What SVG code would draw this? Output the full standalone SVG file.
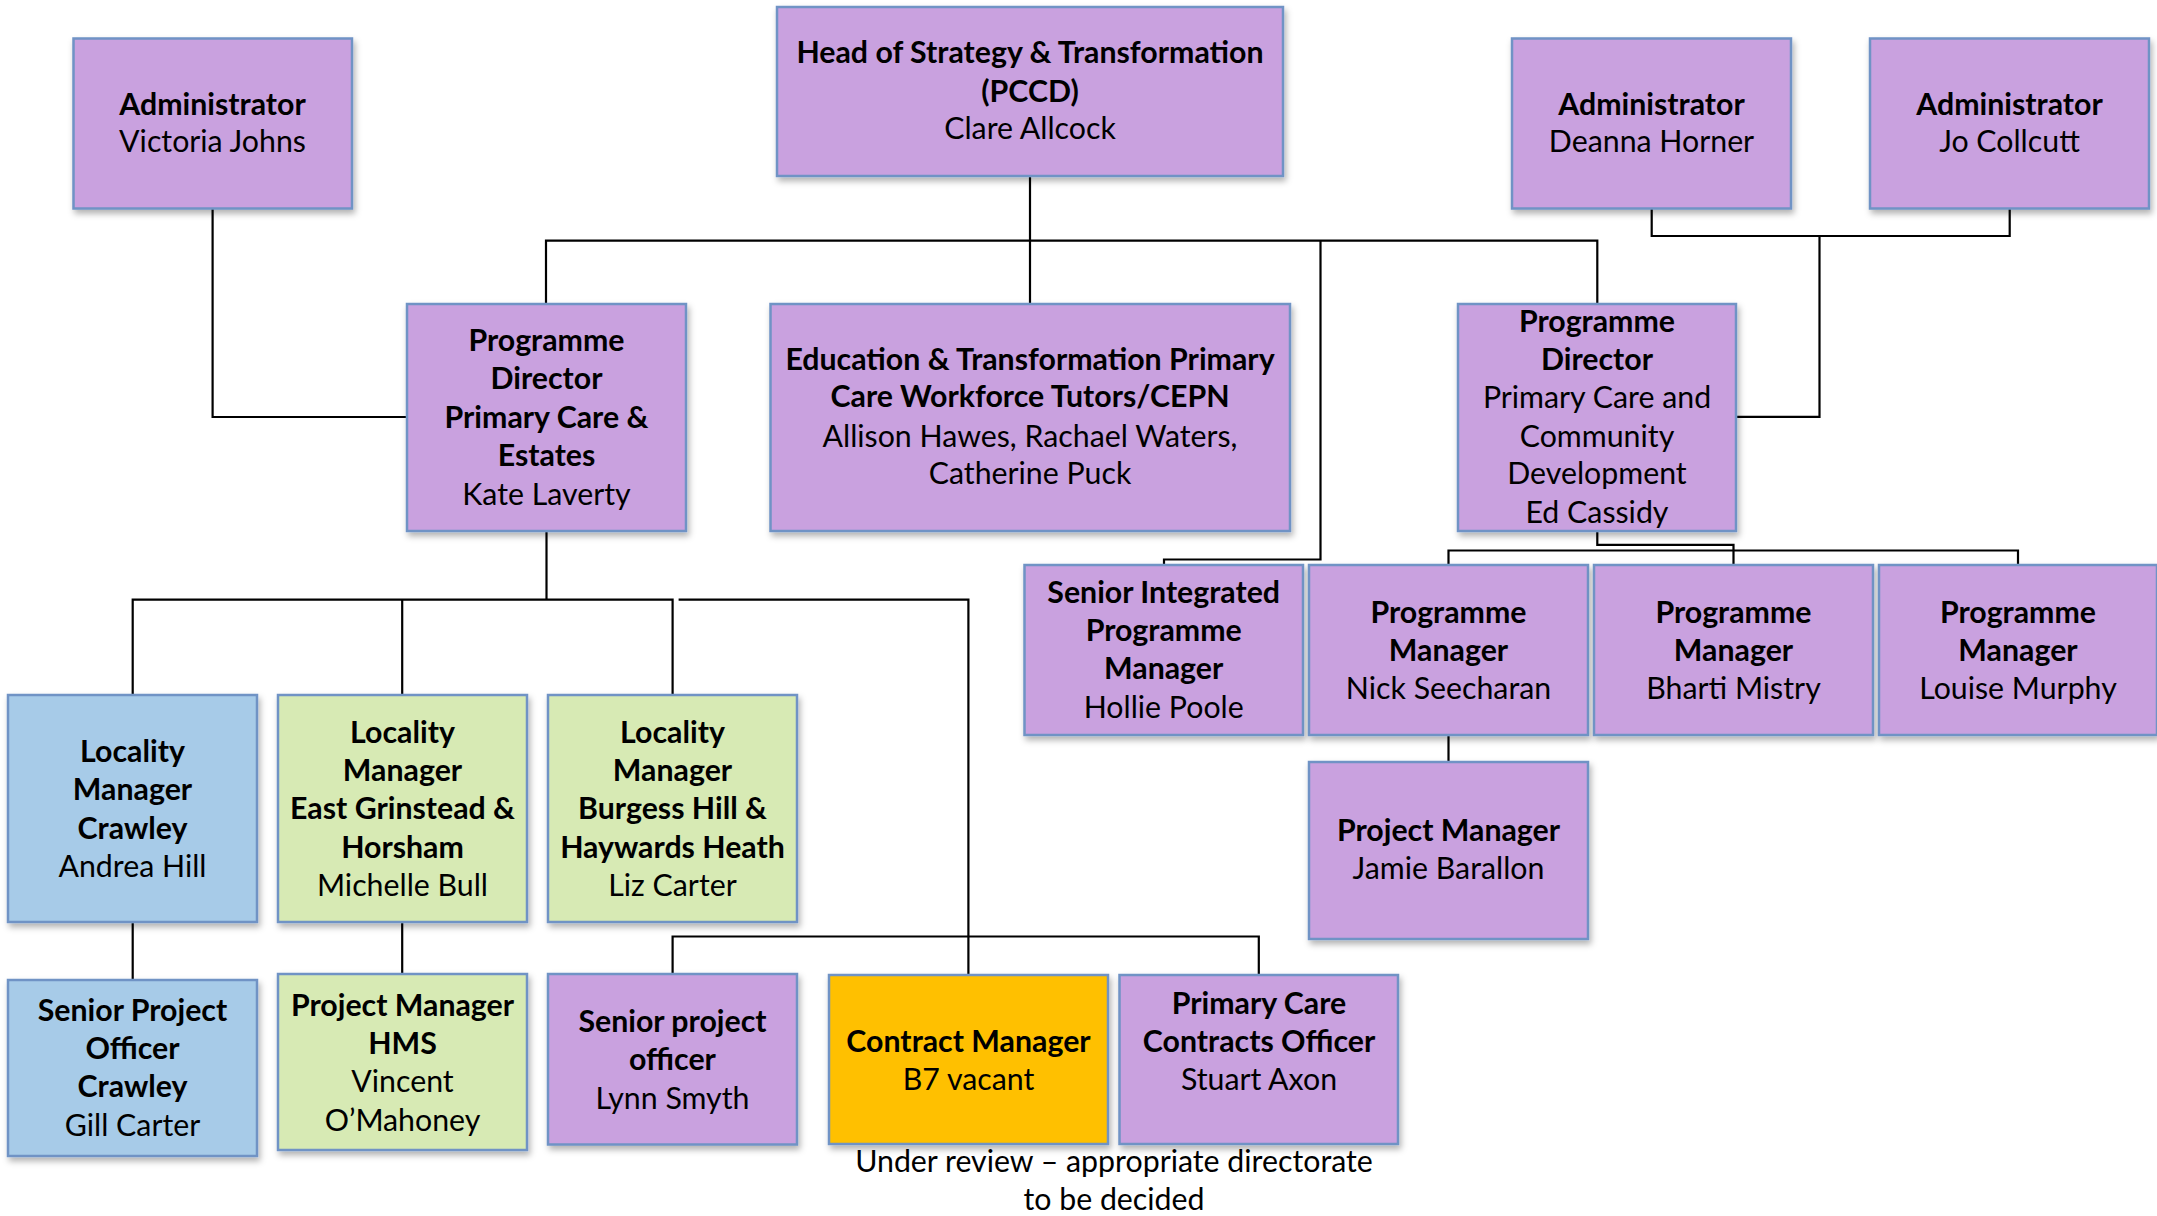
<svg xmlns="http://www.w3.org/2000/svg" width="2157" height="1216" viewBox="0 0 2157 1216">
<defs>
<filter id="sh" x="-5%" y="-5%" width="115%" height="120%">
<feDropShadow dx="2" dy="4" stdDeviation="3" flood-color="#000" flood-opacity="0.3"/>
</filter>
<style>
rect{stroke:#6F93C5;stroke-width:2.5;filter:url(#sh)}
.p{fill:#C9A1DF}
.bl{fill:#A7CBE8}
.g{fill:#D7EAB4}
.o{fill:#FFC000}
text{font-family:Lato,"Liberation Sans",sans-serif;font-size:30.3px;text-anchor:middle;fill:#000}
.b{font-weight:bold}
#connectors path{fill:none;stroke:#000;stroke-width:2.2}
</style>
</defs>
<rect width="2157" height="1216" fill="#fff" style="stroke:none;filter:none"/>
<g id="connectors">
<path d="M212.6 208 V417 H407"/>
<path d="M1030 176 V304"/>
<path d="M546 304 V240.7 H1597.3 V304"/>
<path d="M1320.5 240.7 V559.5 H1164 V565"/>
<path d="M1651.7 208 V236 H2009.7 V208"/>
<path d="M1819.5 236 V416.8 H1736"/>
<path d="M1597.3 531 V544.8 H1733.5 V565"/>
<path d="M1448.5 565 V550.5 H2018 V565"/>
<path d="M1448.5 735 V762"/>
<path d="M546.5 531 V599.7"/>
<path d="M132.7 695 V599.7 H672.6 V695"/>
<path d="M402.2 599.7 V695"/>
<path d="M678.6 599.7 H968.4 V975"/>
<path d="M132.7 922 V980"/>
<path d="M402.2 922 V974"/>
<path d="M672.6 974 V936.5 H1258.8 V975"/>
</g>
<g id="admin-victoria">
<rect class="p" x="73.5" y="38.5" width="278.5" height="170"/>
<text class="b" x="212.5" y="115">Administrator</text>
<text x="212.5" y="152">Victoria Johns</text>
</g>
<g id="head">
<rect class="p" x="777" y="7" width="506" height="169"/>
<text class="b" x="1030" y="63">Head of Strategy &amp; Transformation</text>
<text class="b" x="1030" y="102">(PCCD)</text>
<text x="1030" y="139">Clare Allcock</text>
</g>
<g id="admin-deanna">
<rect class="p" x="1512" y="38.5" width="279" height="170"/>
<text class="b" x="1651.5" y="115">Administrator</text>
<text x="1651.5" y="152">Deanna Horner</text>
</g>
<g id="admin-jo">
<rect class="p" x="1870" y="38.5" width="279" height="170"/>
<text class="b" x="2009.5" y="115">Administrator</text>
<text x="2009.5" y="152">Jo Collcutt</text>
</g>
<g id="pd-estates">
<rect class="p" x="407" y="304" width="279" height="227"/>
<text class="b" x="546.5" y="351">Programme</text>
<text class="b" x="546.5" y="389">Director</text>
<text class="b" x="546.5" y="428">Primary Care &amp;</text>
<text class="b" x="546.5" y="466">Estates</text>
<text x="546.5" y="505">Kate Laverty</text>
</g>
<g id="education">
<rect class="p" x="770.5" y="304" width="519.5" height="227"/>
<text class="b" x="1030" y="370">Education &amp; Transformation Primary</text>
<text class="b" x="1030" y="407">Care Workforce Tutors/CEPN</text>
<text x="1030" y="446.5">Allison Hawes, Rachael Waters,</text>
<text x="1030" y="484">Catherine Puck</text>
</g>
<g id="pd-community">
<rect class="p" x="1458" y="304" width="278" height="227"/>
<text class="b" x="1597" y="332">Programme</text>
<text class="b" x="1597" y="370">Director</text>
<text x="1597" y="408">Primary Care and</text>
<text x="1597" y="446.5">Community</text>
<text x="1597" y="484">Development</text>
<text x="1597" y="523">Ed Cassidy</text>
</g>
<g id="sipm">
<rect class="p" x="1024.5" y="565" width="278.5" height="170"/>
<text class="b" x="1163.7" y="602.6">Senior Integrated</text>
<text class="b" x="1163.7" y="640.5">Programme</text>
<text class="b" x="1163.7" y="679">Manager</text>
<text x="1163.7" y="717.7">Hollie Poole</text>
</g>
<g id="pm-nick">
<rect class="p" x="1309" y="565" width="279" height="170"/>
<text class="b" x="1448.5" y="622.5">Programme</text>
<text class="b" x="1448.5" y="660.5">Manager</text>
<text x="1448.5" y="699">Nick Seecharan</text>
</g>
<g id="pm-bharti">
<rect class="p" x="1594" y="565" width="279" height="170"/>
<text class="b" x="1733.5" y="622.5">Programme</text>
<text class="b" x="1733.5" y="660.5">Manager</text>
<text x="1733.5" y="699">Bharti Mistry</text>
</g>
<g id="pm-louise">
<rect class="p" x="1879" y="565" width="278" height="170"/>
<text class="b" x="2018" y="622.5">Programme</text>
<text class="b" x="2018" y="660.5">Manager</text>
<text x="2018" y="699">Louise Murphy</text>
</g>
<g id="project-jamie">
<rect class="p" x="1309" y="762" width="279" height="177"/>
<text class="b" x="1448.5" y="841">Project Manager</text>
<text x="1448.5" y="879">Jamie Barallon</text>
</g>
<g id="locality-crawley">
<rect class="bl" x="8" y="695" width="249" height="227"/>
<text class="b" x="132.5" y="762">Locality</text>
<text class="b" x="132.5" y="800">Manager</text>
<text class="b" x="132.5" y="839">Crawley</text>
<text x="132.5" y="876.5">Andrea Hill</text>
</g>
<g id="locality-eg">
<rect class="g" x="278" y="695" width="249" height="227"/>
<text class="b" x="402.5" y="742.6">Locality</text>
<text class="b" x="402.5" y="781">Manager</text>
<text class="b" x="402.5" y="819">East Grinstead &amp;</text>
<text class="b" x="402.5" y="858">Horsham</text>
<text x="402.5" y="896">Michelle Bull</text>
</g>
<g id="locality-bh">
<rect class="g" x="548" y="695" width="249" height="227"/>
<text class="b" x="672.5" y="742.6">Locality</text>
<text class="b" x="672.5" y="781">Manager</text>
<text class="b" x="672.5" y="819">Burgess Hill &amp;</text>
<text class="b" x="672.5" y="858">Haywards Heath</text>
<text x="672.5" y="896">Liz Carter</text>
</g>
<g id="spo-crawley">
<rect class="bl" x="8" y="980" width="249" height="176"/>
<text class="b" x="132.5" y="1021">Senior Project</text>
<text class="b" x="132.5" y="1059">Officer</text>
<text class="b" x="132.5" y="1097">Crawley</text>
<text x="132.5" y="1136">Gill Carter</text>
</g>
<g id="pm-hms">
<rect class="g" x="278" y="974" width="249" height="176"/>
<text class="b" x="402.5" y="1016">Project Manager</text>
<text class="b" x="402.5" y="1054">HMS</text>
<text x="402.5" y="1092">Vincent</text>
<text x="402.5" y="1130.5">O’Mahoney</text>
</g>
<g id="spo-lynn">
<rect class="p" x="548" y="974" width="249" height="170.5"/>
<text class="b" x="672.5" y="1032">Senior project</text>
<text class="b" x="672.5" y="1070">officer</text>
<text x="672.5" y="1109">Lynn Smyth</text>
</g>
<g id="contract-manager">
<rect class="o" x="829" y="975" width="279" height="169"/>
<text class="b" x="968.5" y="1052">Contract Manager</text>
<text x="968.5" y="1090">B7 vacant</text>
</g>
<g id="pcc-officer">
<rect class="p" x="1119.5" y="975" width="278.5" height="169"/>
<text class="b" x="1259" y="1013.6">Primary Care</text>
<text class="b" x="1259" y="1051.5">Contracts Officer</text>
<text x="1259" y="1090">Stuart Axon</text>
</g>
<g id="caption">
<text x="1114" y="1172">Under review – appropriate directorate</text>
<text x="1114" y="1210">to be decided</text>
</g>
</svg>
